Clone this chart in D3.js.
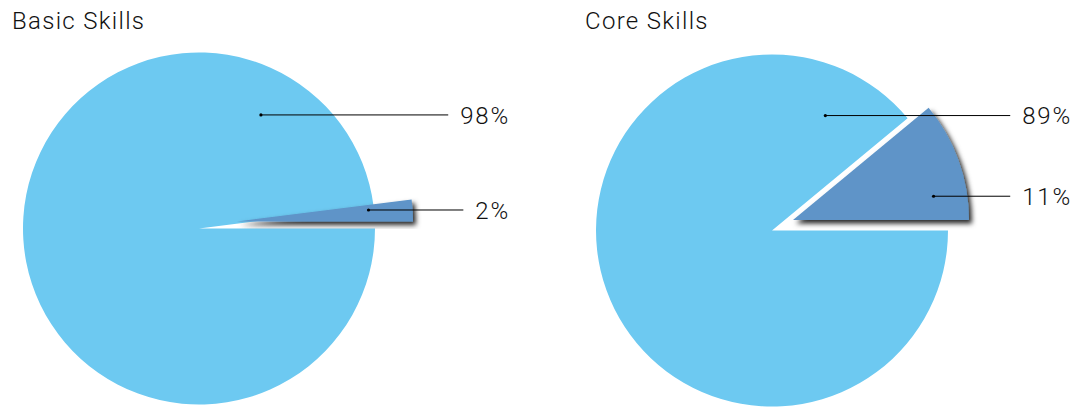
<!DOCTYPE html>
<html>
<head>
<meta charset="utf-8">
<script src="https://cdn.jsdelivr.net/npm/d3@7"></script>
<style>
  html, body { margin: 0; padding: 0; background: #ffffff; }
  svg { display: block; }
  text { font-family: Roboto, "Liberation Sans", sans-serif; font-weight: 300; fill: #111; }
</style>
</head>
<body>
<script>
// Chart data
const charts = ["Basic Skills", "Core Skills"];
const sliceNames = ["Yes", "No"];
const basicValues = [98, 2];
const coreValues = [89, 11];
const valueLabels = [["98%", "2%"], ["89%", "11%"]];

// Layout and style
const W = 1087, H = 407;
const colors = ["#6dc9f1", "#5e94c8"];
const radius = 176;
const panels = [
  { cx: 199, cy: 228.5, titleX: 12, labelRight: 510, explode: [38, -7],
    anchors: [{ a: 61.4, f: 0.735 }, { a: 5, f: 0.75 }] },
  { cx: 772, cy: 230.5, titleX: 585, labelRight: 1072, explode: [21, -10.5],
    anchors: [{ a: 65.1, f: 0.72 }, { a: 9.6, f: 0.81 }] }
];
const seriesValues = [basicValues, coreValues];

const svg = d3.select("body").append("svg")
  .attr("width", W).attr("height", H);

// Drop shadow used by the pulled-out slice
const defs = svg.append("defs");
const f = defs.append("filter").attr("id", "sliceShadow")
  .attr("x", "-20%").attr("y", "-20%").attr("width", "150%").attr("height", "150%");
f.append("feDropShadow")
  .attr("dx", 3).attr("dy", 3.5).attr("stdDeviation", 2.4)
  .attr("flood-color", "#000").attr("flood-opacity", 0.85);

// Slices start at 3 o'clock and run clockwise
const pie = d3.pie().sort(null)
  .startAngle(Math.PI / 2).endAngle(Math.PI / 2 + 2 * Math.PI);
const arc = d3.arc().innerRadius(0).outerRadius(radius);

charts.forEach((title, ci) => {
  const p = panels[ci];
  const values = seriesValues[ci];
  const data = pie(values);

  svg.append("text")
    .attr("x", p.titleX).attr("y", 29)
    .attr("font-size", 24)
    .attr("letter-spacing", 1.3)
    .text(title);

  const g = svg.append("g").attr("transform", `translate(${p.cx},${p.cy})`);

  data.forEach((d, i) => {
    const off = i === 1 ? p.explode : [0, 0];
    const sg = g.append("g").attr("transform", `translate(${off[0]},${off[1]})`);
    sg.append("path")
      .attr("d", arc(d))
      .attr("fill", colors[i])
      .attr("filter", i === 1 ? "url(#sliceShadow)" : null)
      .append("title").text(`${sliceNames[i]}: ${values[i]}%`);
  });

  // Leader lines and value labels
  data.forEach((d, i) => {
    const off = i === 1 ? p.explode : [0, 0];
    const an = p.anchors[i];
    const rad = an.a * Math.PI / 180;
    const ax = p.cx + off[0] + Math.cos(rad) * radius * an.f;
    const ay = p.cy + off[1] - Math.sin(rad) * radius * an.f;

    const t = svg.append("text")
      .attr("x", p.labelRight).attr("y", ay)
      .attr("dy", "0.36em")
      .attr("text-anchor", "end")
      .attr("font-size", 24)
      .attr("letter-spacing", 1.8)
      .text(valueLabels[ci][i]);
    const bb = t.node().getBBox();
    const lineEnd = bb.x - 12;

    svg.append("line")
      .attr("x1", ax).attr("y1", ay).attr("x2", lineEnd).attr("y2", ay)
      .attr("stroke", "#000").attr("stroke-width", 1);
    svg.append("circle")
      .attr("cx", ax).attr("cy", ay).attr("r", 1.6).attr("fill", "#000");
  });
});
</script>
</body>
</html>
